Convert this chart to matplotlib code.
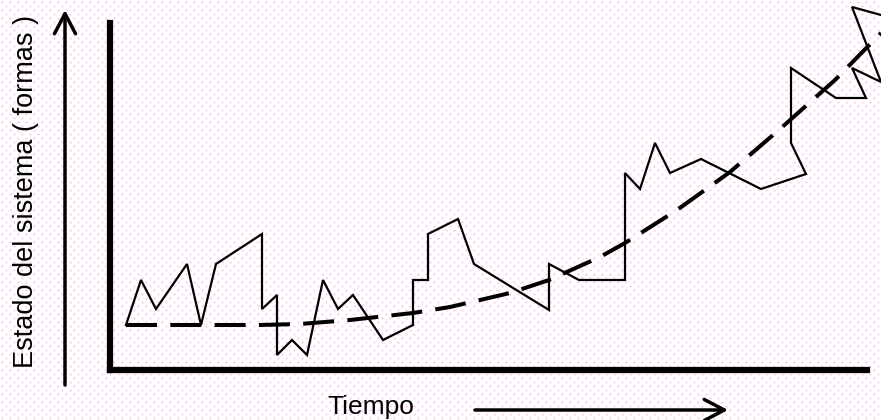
import numpy as np
import matplotlib
matplotlib.use("Agg")
import matplotlib.pyplot as plt

plt.rcParams['font.family'] = ['Liberation Sans', 'DejaVu Sans']

# Observed system state (jagged line), time vs state
time_obs = [16, 31, 46, 77, 91, 106, 152, 152, 167, 167, 182, 197, 213, 228, 243,
            273, 303, 303, 318, 318, 348, 364, 439, 439, 469, 515, 515, 530, 545,
            560, 591, 651, 696, 681, 681, 726, 756, 742, 771, 742, 771]
state_obs = [45, 90, 61, 106, 45, 106, 136, 61, 75, 15, 30, 15, 90, 61, 75,
             30, 45, 90, 90, 136, 151, 106, 60, 106, 90, 90, 197, 181, 227,
             197, 211, 181, 196, 227, 302, 272, 272, 302, 288, 363, 355]

# Trend (dashed curve)
time_trend = [16, 90, 150, 190, 240, 303, 340, 400, 439, 490, 515, 567, 620, 670, 725, 771]
state_trend = [45, 45, 45, 46, 50, 57, 63, 77, 90, 113, 127, 160, 198, 241, 290, 337]

xlabel = "Tiempo"
ylabel = "Estado del sistema ( formas )"

W, H = 881, 420
fig = plt.figure(figsize=(W / 100, H / 100), dpi=100)

# background dotted pattern
bg = fig.add_axes([0, 0, 1, 1], zorder=0)
bg.set_xlim(0, W)
bg.set_ylim(0, H)
bg.axis('off')
xs, ys = [], []
for i, yy in enumerate(np.arange(2, H, 4)):
    off = 0 if i % 2 == 0 else 4
    xr = np.arange(2 + off, W, 8)
    xs.append(xr)
    ys.append(np.full_like(xr, yy))
bg.scatter(np.concatenate(xs), np.concatenate(ys), s=2.4, color='#fac8f4',
           linewidths=0, marker='o')

# main axes: origin at pixel (110, 370)
ax = fig.add_axes([110 / W, (H - 370) / H, (W - 110) / W, 370 / H], zorder=1)
ax.set_facecolor('none')
ax.set_xlim(0, W - 110)
ax.set_ylim(0, 370)

ax.plot(time_obs, state_obs, color='black', lw=1.6, solid_joinstyle='miter')
tl, = ax.plot(time_trend, state_trend, color='black', lw=2.9, dash_capstyle='butt')
tl.set_dashes((7.7, 3.3))

for s in ['top', 'right']:
    ax.spines[s].set_visible(False)
ax.spines['left'].set_linewidth(4.5)
ax.spines['bottom'].set_linewidth(4.5)
ax.spines['left'].set_bounds(0, 347)
ax.spines['bottom'].set_bounds(0, 757)
ax.set_xticks([])
ax.set_yticks([])

# arrows
ap = dict(arrowstyle='->,head_length=0.72,head_width=0.38', lw=2.5,
          color='black', mutation_scale=20, shrinkA=0, shrinkB=0)
ax.annotate('', xy=(-45, 360), xytext=(-45, -15), xycoords='data',
            annotation_clip=False, arrowprops=ap)
ax.annotate('', xy=(618, -40), xytext=(365, -40), xycoords='data',
            annotation_clip=False, arrowprops=ap)

fig.text(371 / W, 1 - 407 / H, xlabel, ha='center', va='center', fontsize=19)
fig.text(26 / W, 1 - 191 / H, ylabel, ha='center', va='center', fontsize=19.5,
         rotation=90)

fig.savefig('out.png', dpi=100)
